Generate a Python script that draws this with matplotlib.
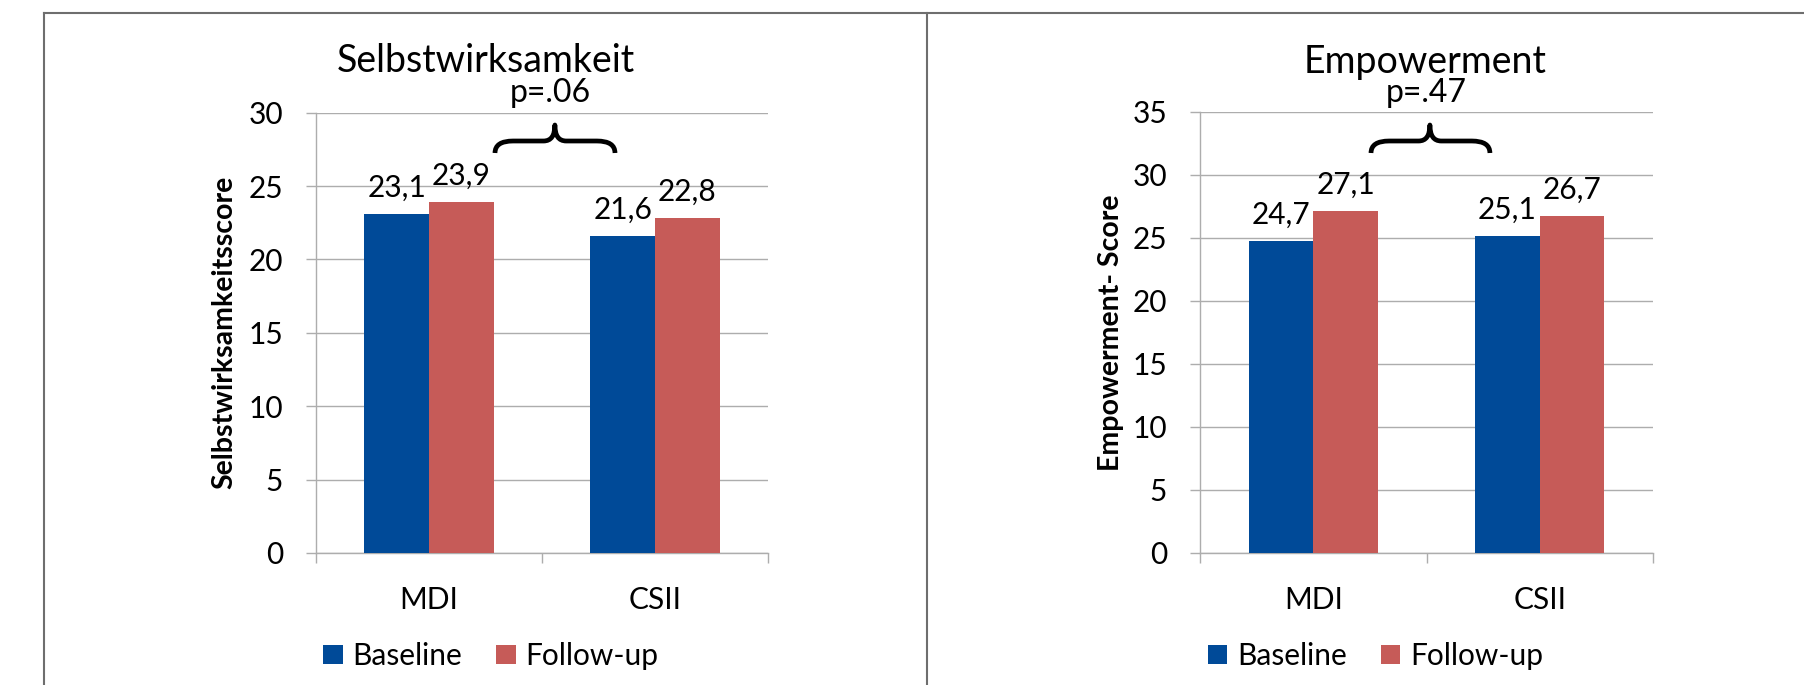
import matplotlib
matplotlib.use("Agg")
import matplotlib.pyplot as plt
from matplotlib.path import Path
from matplotlib.patches import PathPatch, Patch
from matplotlib.lines import Line2D
import numpy as np

# ---------------- data ----------------
categories = ["MDI", "CSII"]
series_names = ["Baseline", "Follow-up"]
selbst_baseline = [23.1, 21.6]
selbst_followup = [23.9, 22.8]
empower_baseline = [24.7, 25.1]
empower_followup = [27.1, 26.7]
titles = ["Selbstwirksamkeit", "Empowerment"]
ylabels = ["Selbstwirksamkeitsscore", "Empowerment- Score"]
p_labels = ["p=.06", "p=.47"]
y_max = [30, 35]
y_step = 5

# ---------------- style ----------------
plt.rcParams["font.family"] = ["Lato", "DejaVu Sans"]
BLUE = "#004A98"
RED = "#C65B58"
GRID = "#ADADAD"
BORDER = "#6E6E6E"
FS = 21.5
W, H = 1804, 685

fig = plt.figure(figsize=(W / 100, H / 100), dpi=100)
fig.patch.set_facecolor("white")


def fx(px):
    return px / W


def fy(py):
    return 1 - py / H


# outer frame lines (slide table borders)
fig.add_artist(Line2D([fx(44), 1.0], [fy(12.7), fy(12.7)], color=BORDER, lw=1.5,
                      transform=fig.transFigure))
for xb in (44, 927):
    fig.add_artist(Line2D([fx(xb), fx(xb)], [0, fy(12.7)], color=BORDER, lw=1.5,
                          transform=fig.transFigure))

panels = [
    dict(box=(316, 112.7, 768, 553), base=selbst_baseline, fol=selbst_followup,
         title_xy=(485.5, 72.5), p_xy=(550, 102), legend_xy=(490.9, 656),
         ylabel_x=-0.173,
         brace_x=(0.292, 0.557, 0.823), brace_px=(153, 141, 125)),
    dict(box=(1200, 111.6, 1653, 553), base=empower_baseline, fol=empower_followup,
         title_xy=(1425.5, 72.5), p_xy=(1426.6, 102), legend_xy=(1375.8, 656),
         ylabel_x=-0.168,
         brace_x=(0.255, 0.515, 0.780), brace_px=(153, 141, 125)),
]

bar_w = 1 / 3.5  # Excel gap width 150 %

for i, pnl in enumerate(panels):
    x0, y0, x1, y1 = pnl["box"]
    ax = fig.add_axes([fx(x0), fy(y1), (x1 - x0) / W, (y1 - y0) / H])
    ax.set_facecolor("white")
    xs = np.arange(len(categories))
    b1 = ax.bar(xs - bar_w / 2, pnl["base"], bar_w, color=BLUE, zorder=3)
    b2 = ax.bar(xs + bar_w / 2, pnl["fol"], bar_w, color=RED, zorder=3)

    for bars, vals in ((b1, pnl["base"]), (b2, pnl["fol"])):
        for rect, v in zip(bars, vals):
            ax.annotate(f"{v:.1f}".replace(".", ","),
                        (rect.get_x() + rect.get_width() / 2, rect.get_height()),
                        xytext=(0, 12.7), textcoords="offset points",
                        ha="center", va="baseline", fontsize=FS, color="black")

    ax.set_xlim(-0.5, len(categories) - 0.5)
    ax.set_ylim(0, y_max[i])
    ax.set_yticks(np.arange(0, y_max[i] + 1, y_step))
    ax.set_xticks(xs)
    ax.set_xticklabels(categories)
    ax.set_xticks(np.arange(-0.5, len(categories), 1.0), minor=True)

    ax.yaxis.grid(True, color=GRID, lw=1.0, zorder=0)
    ax.set_axisbelow(True)
    for s in ("top", "right"):
        ax.spines[s].set_visible(False)
    for s in ("left", "bottom"):
        ax.spines[s].set_color(GRID)
        ax.spines[s].set_linewidth(1.0)

    ax.tick_params(axis="y", length=7.2, width=1.0, color=GRID, pad=16.6,
                   labelsize=FS)
    ax.tick_params(axis="x", which="major", length=0, pad=23.5, labelsize=FS)
    ax.tick_params(axis="x", which="minor", length=7.2, width=1.0, color=GRID)

    ax.set_ylabel(ylabels[i], fontsize=20.5, fontweight="bold")
    ax.yaxis.set_label_coords(pnl["ylabel_x"], 0.5)

    # titles and p-value
    fig.text(fx(pnl["title_xy"][0]), fy(pnl["title_xy"][1]), titles[i],
             ha="center", va="baseline", fontsize=27)
    fig.text(fx(pnl["p_xy"][0]), fy(pnl["p_xy"][1]), p_labels[i],
             ha="center", va="baseline", fontsize=23)

    # curly brace (in data coords)
    bx0, bxc, bx1 = pnl["brace_x"]
    to_y = lambda py: (y1 - py) / (y1 - y0) * y_max[i]
    ye, yh, yp = (to_y(v) for v in pnl["brace_px"])
    q1, q2 = 0.08, 0.05
    verts = [(bx0, ye), (bx0, yh), (bx0 + q1, yh), (bxc - q2, yh),
             (bxc, yh), (bxc, yp), (bxc, yh), (bxc + q2, yh),
             (bx1 - q1, yh), (bx1, yh), (bx1, ye)]
    codes = [Path.MOVETO, Path.CURVE3, Path.CURVE3, Path.LINETO,
             Path.CURVE3, Path.CURVE3, Path.CURVE3, Path.CURVE3,
             Path.LINETO, Path.CURVE3, Path.CURVE3]
    ax.add_patch(PathPatch(Path(verts, codes), fill=False, lw=3.4, color="black",
                           capstyle="butt", joinstyle="round", zorder=5,
                           clip_on=False))

    handles = [Patch(facecolor=BLUE, edgecolor="none"),
               Patch(facecolor=RED, edgecolor="none")]
    fig.legend(handles, series_names, loc="center",
               bbox_to_anchor=(fx(pnl["legend_xy"][0]), fy(pnl["legend_xy"][1])),
               ncol=2, frameon=False, fontsize=FS, handlelength=0.64,
               handleheight=0.64, handletextpad=0.33, columnspacing=1.15,
               borderpad=0, borderaxespad=0)

fig.savefig("out.png", dpi=100, facecolor="white")
